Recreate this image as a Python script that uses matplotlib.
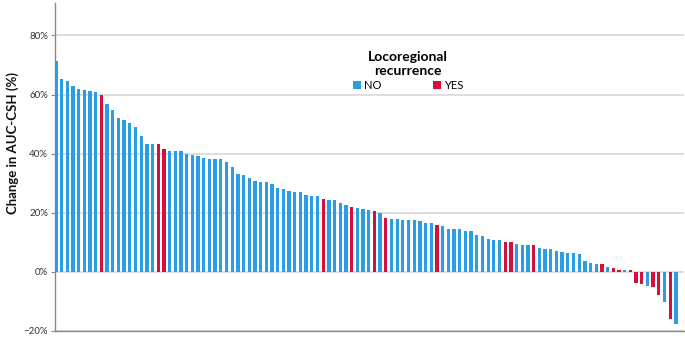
import numpy as np
import matplotlib
matplotlib.use("Agg")
import matplotlib.pyplot as plt
from matplotlib.patches import Patch
from matplotlib.ticker import PercentFormatter

# Change in AUC-CSH (%) per patient, sorted descending
change_pct = [
    71.2, 65.1, 64.7, 62.8, 61.7, 61.5, 61.1, 61.0, 60.0, 56.8,
    54.9, 52.1, 51.3, 50.4, 49.0, 45.9, 43.3, 43.2, 43.2, 41.7,
    40.9, 40.9, 40.9, 39.8, 39.5, 39.1, 38.5, 38.3, 38.3, 38.1,
    37.2, 35.6, 33.2, 32.9, 31.8, 30.6, 30.5, 30.4, 29.7, 28.4,
    27.9, 27.5, 27.1, 27.1, 26.0, 25.8, 25.7, 24.5, 24.3, 24.3,
    23.2, 22.7, 22.0, 21.7, 21.4, 20.9, 20.6, 19.8, 18.3, 17.9,
    17.9, 17.5, 17.5, 17.5, 17.2, 16.5, 16.4, 15.9, 15.5, 14.6,
    14.5, 14.5, 13.9, 13.9, 12.4, 12.1, 11.1, 10.8, 10.8, 10.2,
    10.2, 9.5, 9.1, 9.1, 9.1, 8.2, 7.7, 7.7, 7.2, 6.7,
    6.3, 6.3, 6.1, 3.6, 2.9, 2.8, 2.6, 1.6, 1.4, 0.8,
    0.8, 0.6, -3.7, -4.1, -4.7, -5.0, -7.8, -10.2, -16.1, -17.7,
]

# bars (1-based) of patients with locoregional recurrence
recurrence_yes = [9, 19, 20, 48, 53, 57, 59, 68, 80, 81, 85,
                  97, 99, 100, 102, 103, 104, 106, 107, 109]

groups = ["NO", "YES"]
group_colors = {"NO": "#2b9de6", "YES": "#d4113c"}

recurrence = ["YES" if i + 1 in recurrence_yes else "NO" for i in range(len(change_pct))]
colors = [group_colors[r] for r in recurrence]

plt.rcParams["font.family"] = ["Lato", "DejaVu Sans"]

fig = plt.figure(figsize=(6.85, 3.4), dpi=100)
ax = fig.add_axes([0.0803, 0.0265, 0.918, 0.965])

x = np.arange(len(change_pct))
ax.bar(x, change_pct, width=0.58, color=colors, zorder=3)

ax.set_xlim(-0.15, 110.4)
ax.set_ylim(-20, 91)
ax.set_yticks([-20, 0, 20, 40, 60, 80])
ax.yaxis.set_major_formatter(PercentFormatter(decimals=0))
ax.tick_params(axis="y", labelsize=7, length=3, width=0.8, color="#888888",
               labelcolor="#333333", pad=2)
ax.set_xticks([])

ax.grid(axis="y", color="#d4d4d4", linewidth=1.1, zorder=0)

for side in ["top", "right"]:
    ax.spines[side].set_visible(False)
for side in ["left", "bottom"]:
    ax.spines[side].set_color("#8a8a8a")
    ax.spines[side].set_linewidth(1.0)

ax.set_ylabel("Change in AUC-CSH (%)", fontsize=9.5, fontweight="bold",
              color="#111111")
ax.yaxis.set_label_coords(-0.058, 0.573)

handles = [Patch(facecolor=group_colors[g], edgecolor="none") for g in groups]
leg = fig.legend(handles, groups, ncol=2, loc="upper center",
                 bbox_to_anchor=(408 / 685, 1 - 43 / 340), frameon=False,
                 title="Locoregional\nrecurrence",
                 title_fontproperties={"weight": "bold", "size": 10},
                 fontsize=8, handlelength=0.75, handleheight=0.75,
                 handletextpad=0.25, columnspacing=4.6, borderpad=0.2,
                 labelspacing=0.3)
leg.get_title().set_multialignment("center")

fig.savefig("out.png", dpi=100)
